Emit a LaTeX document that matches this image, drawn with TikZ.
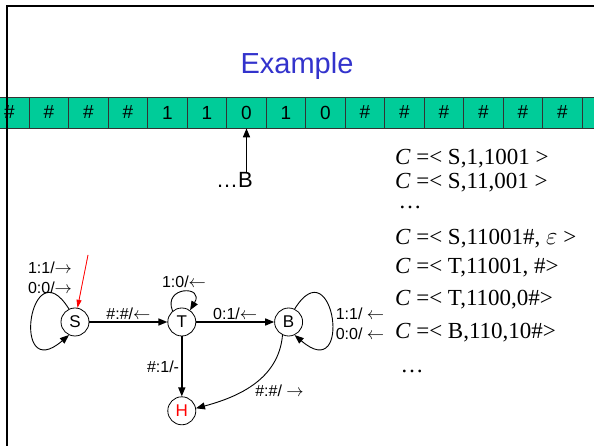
\documentclass[tikz,border=0pt]{standalone}
\usepackage{fontspec}
\setmainfont{Liberation Sans}
\newfontfamily\timesfont{Liberation Serif}
\usetikzlibrary{arrows.meta,positioning}
\definecolor{tapegreen}{HTML}{00CC99}
\definecolor{titleblue}{HTML}{3333CC}
\definecolor{haltred}{HTML}{FF0000}

\begin{document}
\begin{tikzpicture}[x=1pt,y=1pt,
node distance=60pt and 78pt,
state/.style={circle,draw,line width=0.8pt,minimum size=28pt,inner sep=0pt,
font=\fontsize{17}{17}\selectfont},
cell/.style={draw=black!80,fill=tapegreen,line width=0.7pt,minimum width=39.5pt,
minimum height=31pt,inner sep=0pt,font=\fontsize{19}{19}\selectfont},
lbl/.style={inner sep=1pt,font=\fontsize{16}{20}\selectfont},
conf/.style={anchor=base west,inner sep=0pt,font=\timesfont\fontsize{23}{23}\selectfont},
arr/.style={-{Triangle[length=9pt,width=7pt]},line width=1.5pt},
looparr/.style={-{Triangle[length=9pt,width=7pt]},line width=0.9pt},
initarr/.style={-{Triangle[length=8pt,width=5pt]},line width=0.8pt,draw=haltred,fill=haltred}
]
\useasboundingbox (0,0) rectangle (594,446);
\clip (0,0) rectangle (594,446);

% tape
\foreach \sym [count=\i from 0] in {\#,\#,\#,\#,1,1,0,1,0,\#,\#,\#,\#,\#,\#,\#}
  \node[cell] (cell\i) at (9.5+39.5*\i,333.5) {\sym};

% slide frame
\draw[line width=2.5pt] (7,0) -- (7,440) -- (594,440);

\node[anchor=base,text=titleblue,font=\fontsize{29}{29}\selectfont] (title) at (297,372) {Example};

% head
\node[anchor=base,inner sep=0pt,font=\fontsize{22}{22}\selectfont] (head) at (234.5,258) {…B};
\draw[arr] (head.north -| cell6) -- (cell6.south);

% states
\node[state] (S) at (75,124) {S};
\node[state,right=of S] (T) {T};
\node[state,right=of T] (B) {B};
\node[state,below=of T,text=haltred] (H) {H};

\coordinate (init) at (88,191);
\draw[initarr] (init) -- (S.80);

\draw[arr] (S) -- node[lbl,above=1pt] (lst) {\#:\#/$\leftarrow$} (T);
\draw[arr] (T) -- node[lbl,above=1pt] (ltb) {0:1/$\leftarrow$} (B);
\draw[arr] (T) -- node[lbl,left=1pt] (lth) {\#:1/-} (H);
\draw[looparr] (B.-115) to[out=-95,in=15]
  node[lbl,pos=0.5,below right=0pt] (lbh) {\#:\#/ $\rightarrow$} (H.10);

% loops
\draw[looparr] (S.115) .. controls +(-39,63) and +(-59,-51) .. (S.-115);
\draw[looparr] (T.130) .. controls +(-10,25) and +(15,25) .. (T.55);
\draw[looparr] (B.65) .. controls +(39,63) and +(59,-51) .. (B.-65);

\node[lbl,align=left] (sloop) at (50,168) {1:1/$\rightarrow$\\0:0/$\rightarrow$};
\node[lbl] (tloop) at (184,164) {1:0/$\leftarrow$};
\node[lbl,align=left] (bloop) at (360,122) {1:1/ $\leftarrow$\\0:0/ $\leftarrow$};

% configurations
\node[conf] (c1) at (395,281) {{\itshape C} =< S,1,1001 >};
\node[conf] (c2) at (395,257) {{\itshape C} =< S,11,001 >};
\node[conf,anchor=base] (d1) at (410,237) {…};
\node[conf] (c3) at (395,201) {{\itshape C} =< S,11001\#, $\varepsilon$ >};
\node[conf] (c4) at (395,172) {{\itshape C} =< T,11001, \#>};
\node[conf] (c5) at (395,140) {{\itshape C} =< T,1100,0\#>};
\node[conf] (c6) at (395,107) {{\itshape C} =< B,110,10\#>};
\node[conf,anchor=base] (d2) at (412,73) {…};
\end{tikzpicture}
\end{document}
